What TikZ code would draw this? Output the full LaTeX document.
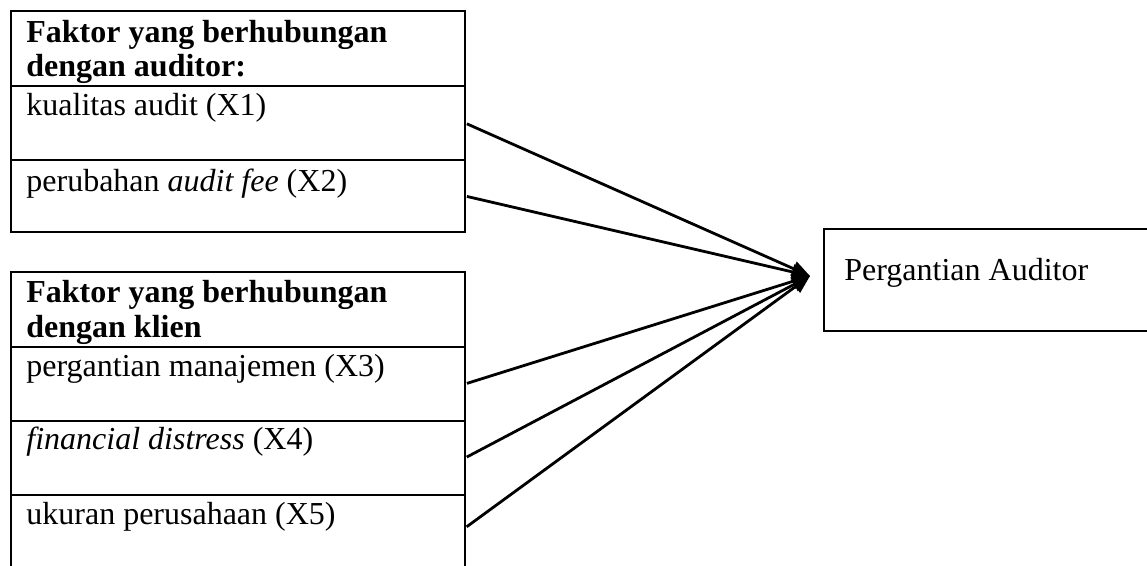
\documentclass[tikz,border=0pt]{standalone}
\usepackage{fontspec}
\setmainfont{Liberation Serif}
\usetikzlibrary{arrows.meta,calc}
\begin{document}
\begin{tikzpicture}[x=0.5pt,y=-0.5pt,
  cell/.style={draw, line width=1pt, rectangle, inner sep=0pt, outer sep=0pt,
    anchor=north west, minimum width=227pt},
  opencell/.style={cell, draw=none},
  txt/.style={anchor=base west, inner sep=0pt, font=\fontsize{16pt}{19pt}\selectfont},
  head/.style={txt, font=\fontsize{16pt}{19pt}\selectfont\bfseries},
  conn/.style={line width=1.4pt, shorten <=1pt, -{Triangle[length=9pt,width=7.5pt]}},
  edge/.style={line width=1pt}]
\useasboundingbox (0,0) rectangle (1147,566);
\clip (0,0) rectangle (1147,566);

% factors related to the auditor
\node[cell, minimum height=37.5pt] (hA) at (11,11) {};
\node[cell, minimum height=37pt] (x1) at (hA.south west) {};
\node[cell, minimum height=36pt] (x2) at (x1.south west) {};

\node[head] (hA1) at ($(hA.north west)+(15,32)$) {Faktor yang berhubungan};
\node[head] (hA2) at ($(hA.north west)+(15,66)$) {dengan auditor:};
\node[txt] (t1) at ($(x1.north west)+(15,30)$) {kualitas audit (X1)};
\node[txt] (t2) at ($(x2.north west)+(15,32)$) {perubahan \textit{audit fee} (X2)};

% factors related to the client
\node[cell, minimum height=37.5pt] (hB) at (11,272) {};
\node[cell, minimum height=37pt] (x3) at (hB.south west) {};
\node[cell, minimum height=37pt] (x4) at (x3.south west) {};
\node[opencell, minimum height=33pt] (x5) at (x4.south west) {};
\draw[edge] (x5.north west) -- ($(x5.south west)+(0,30)$);
\draw[edge] (x5.north east) -- ($(x5.south east)+(0,30)$);

\node[head] (hB1) at ($(hB.north west)+(15,31)$) {Faktor yang berhubungan};
\node[head] (hB2) at ($(hB.north west)+(15,66)$) {dengan klien};
\node[txt] (t3) at ($(x3.north west)+(15,30)$) {pergantian manajemen (X3)};
\node[txt] (t4) at ($(x4.north west)+(15,29)$) {\textit{financial distress} (X4)};
\node[txt] (t5) at ($(x5.north west)+(15,30)$) {ukuran perusahaan (X5)};

% dependent variable
\node[cell, minimum width=180pt, minimum height=51pt] (tgt) at (824,229) {};
\node[txt] (tt) at ($(tgt.north west)+(20,52)$) {Pergantian Auditor};
\coordinate (hub) at ($(tgt.west)+(-14,-4)$);

% connectors
\draw[conn] (x1.east) -- (hub);
\draw[conn] (x2.east) -- (hub);
\draw[conn] (x3.east) -- (hub);
\draw[conn] (x4.east) -- (hub);
\draw[conn] (x5.east) -- (hub);
\end{tikzpicture}
\end{document}
